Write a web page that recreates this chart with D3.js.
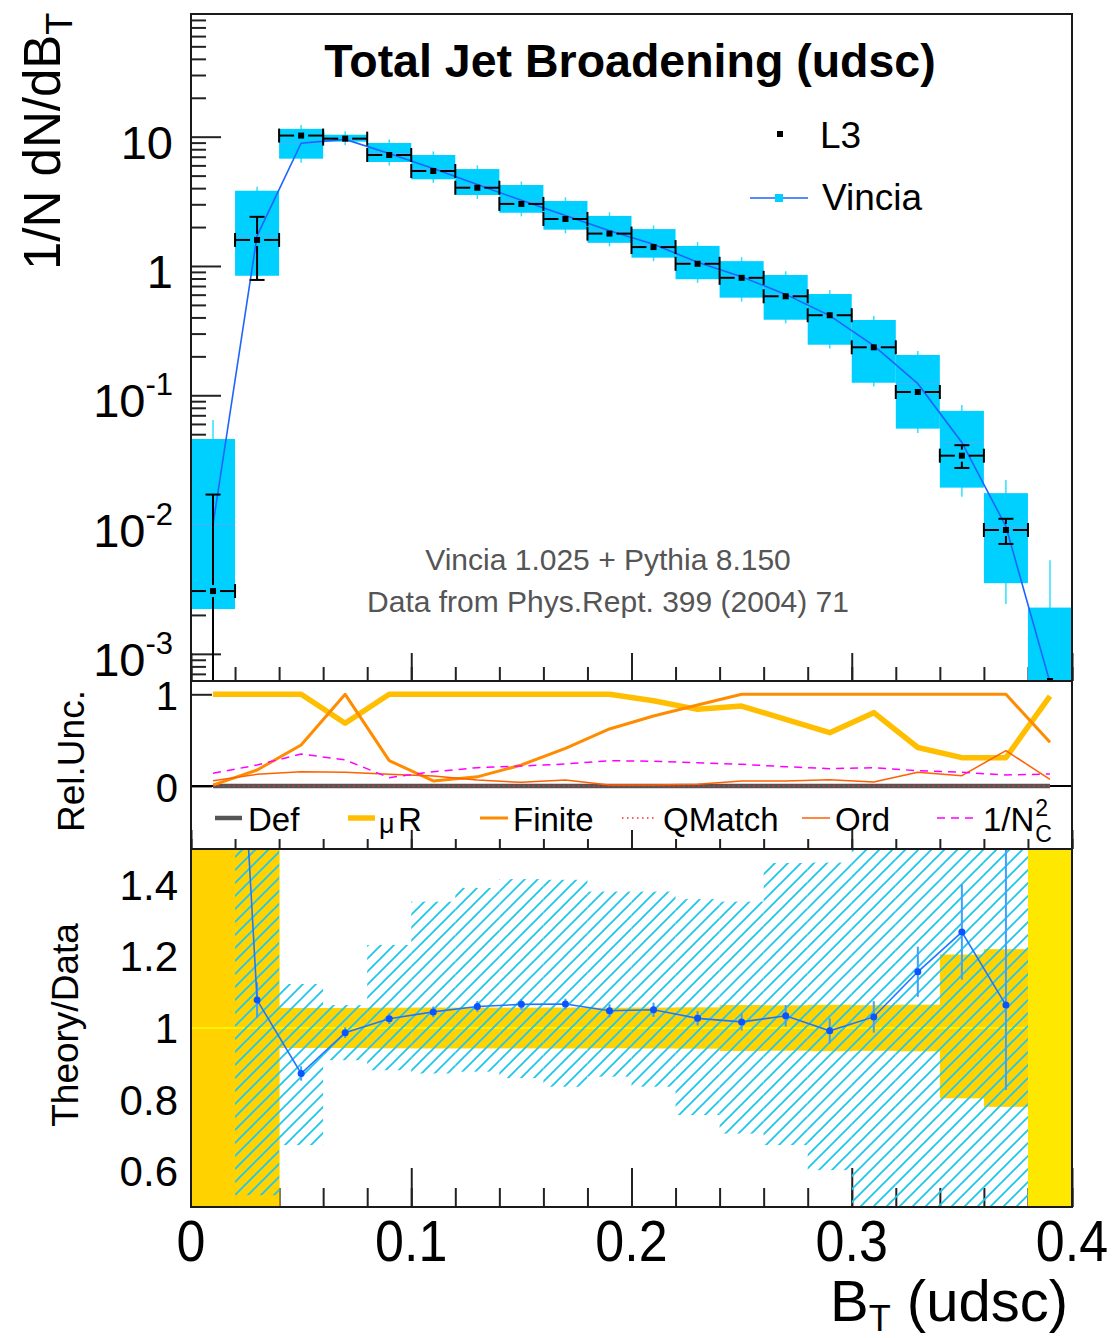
<!DOCTYPE html>
<html>
<head>
<meta charset="utf-8">
<script src="https://cdn.jsdelivr.net/npm/d3@7"></script>
<style>
  body { margin: 0; background: #fff; }
  text { font-family: "Liberation Sans", Arial, Helvetica, sans-serif; fill: #000; }
</style>
</head>
<body>
<script>
// ---- data: B_T bins (udsc) ----
const binLo  = [0.00, 0.02, 0.04, 0.06, 0.08, 0.10, 0.12, 0.14, 0.16, 0.18, 0.20, 0.22, 0.24, 0.26, 0.28, 0.30, 0.32, 0.34, 0.36, 0.38];
const binHi  = [0.02, 0.04, 0.06, 0.08, 0.10, 0.12, 0.14, 0.16, 0.18, 0.20, 0.22, 0.24, 0.26, 0.28, 0.30, 0.32, 0.34, 0.36, 0.38, 0.40];
const binMid = [0.01, 0.03, 0.05, 0.07, 0.09, 0.11, 0.13, 0.15, 0.17, 0.19, 0.21, 0.23, 0.25, 0.27, 0.29, 0.31, 0.33, 0.35, 0.37, 0.39];

// L3 measurement
const l3   = [0.00306, 1.59, 10.2, 9.66, 7.22, 5.43, 4.03, 3.02, 2.31, 1.78, 1.40, 1.04, 0.810, 0.583, 0.416, 0.235, 0.106, 0.0341, 0.00908, 0];
const l3Up = [0.0140, 0.81, 0.57, 0.54, 0.41, 0.31, 0.23, 0.172, 0.132, 0.101, 0.080, 0.060, 0.052, 0.037, 0.027, 0.015, 0.0069, 0.0070, 0.0020, 0];
const l3Dn = [0.0031, 0.81, 0.57, 0.54, 0.41, 0.31, 0.23, 0.172, 0.132, 0.101, 0.080, 0.060, 0.052, 0.037, 0.027, 0.015, 0.0069, 0.0067, 0.0020, 0];

// Vincia prediction + uncertainty boxes + whiskers
const vincia   = [0.0100, 1.71, 8.90, 9.53, 7.41, 5.67, 4.27, 3.22, 2.46, 1.87, 1.47, 1.07, 0.824, 0.603, 0.413, 0.242, 0.123, 0.0432, 0.00966, 0.00060];
const vinciaHi = [0.0459, 3.82, 11.5, 10.36, 8.94, 7.22, 5.62, 4.23, 3.18, 2.44, 1.93, 1.43, 1.09, 0.852, 0.607, 0.382, 0.205, 0.0757, 0.0175, 0.00228];
const vinciaLo = [0.00222, 0.84, 6.76, 9.15, 6.37, 4.68, 3.54, 2.58, 1.91, 1.51, 1.16, 0.79, 0.569, 0.384, 0.246, 0.125, 0.0552, 0.0193, 0.00352, 0.00001];
const vinciaWhiskHi = [0.0643, 4.10, 12.3, 11.0, 9.5, 7.7, 6.0, 4.5, 3.4, 2.6, 2.06, 1.53, 1.17, 0.91, 0.65, 0.41, 0.22, 0.0841, 0.0221, 0.0053];
const vinciaWhiskLo = [0.00001, 0.78, 6.3, 8.6, 6.0, 4.4, 3.3, 2.42, 1.79, 1.42, 1.09, 0.74, 0.53, 0.36, 0.23, 0.117, 0.051, 0.0164, 0.00243, 0.00001];

// relative uncertainties
const uncDef    = [0, 0, 0, 0, 0, 0, 0, 0, 0, 0, 0, 0, 0, 0, 0, 0, 0, 0, 0, 0];
const uncMuR    = [1.0, 1.0, 1.0, 0.684, 1.0, 1.0, 1.0, 1.0, 1.0, 1.0, 0.93, 0.836, 0.872, 0.727, 0.581, 0.80, 0.42, 0.309, 0.309, 0.98];
const uncFinite = [0.01, 0.174, 0.447, 1.0, 0.276, 0.055, 0.10, 0.229, 0.411, 0.622, 0.763, 0.883, 1.0, 1.0, 1.0, 1.0, 1.0, 1.0, 1.0, 0.477];
const uncQMatch = [0, 0, 0, 0, 0, 0, 0, 0, 0, 0, 0, 0, 0, 0, 0, 0, 0, 0, 0, 0];
const uncOrd    = [0.058, 0.128, 0.156, 0.149, 0.128, 0.109, 0.065, 0.04, 0.065, 0.01, 0.01, 0.018, 0.055, 0.055, 0.069, 0.044, 0.149, 0.113, 0.385, 0.073];
const uncNc     = [0.138, 0.229, 0.349, 0.284, 0.091, 0.156, 0.20, 0.218, 0.24, 0.276, 0.27, 0.254, 0.236, 0.21, 0.189, 0.20, 0.167, 0.149, 0.12, 0.131];

// theory / data
const ratio   = [3.27, 1.078, 0.873, 0.987, 1.026, 1.045, 1.060, 1.066, 1.067, 1.048, 1.051, 1.027, 1.017, 1.034, 0.992, 1.031, 1.157, 1.268, 1.064, null];
const ratioUp = [0.5, 0.05, 0.02, 0.015, 0.015, 0.015, 0.015, 0.015, 0.015, 0.018, 0.02, 0.02, 0.024, 0.03, 0.035, 0.044, 0.07, 0.133, 0.5, 0];
const ratioDn = [0.5, 0.05, 0.02, 0.015, 0.015, 0.015, 0.015, 0.015, 0.015, 0.018, 0.02, 0.02, 0.024, 0.03, 0.035, 0.044, 0.07, 0.133, 0.237, 0];
const envHi = [null, 1.6, 1.123, 1.064, 1.232, 1.353, 1.391, 1.416, 1.414, 1.381, 1.381, 1.360, 1.353, 1.461, 1.462, 1.6, 1.6, 1.6, 1.6, null];
const envLo = [null, 0.533, 0.673, 0.910, 0.882, 0.873, 0.878, 0.860, 0.836, 0.864, 0.836, 0.757, 0.705, 0.673, 0.603, 0.4, 0.4, 0.4, 0.4, null];

const logTickLabels = [["10", "-3"], ["10", "-2"], ["10", "-1"], ["1", ""], ["10", ""]];
const logTickValues = [0.001, 0.01, 0.1, 1, 10];
const midTicks = [0, 1];
const ratioTicks = [0.6, 0.8, 1.0, 1.2, 1.4];
const ratioTickLabels = ["0.6", "0.8", "1", "1.2", "1.4"];
const xTickLabels = ["0", "0.1", "0.2", "0.3", "0.4"];

// ---- layout ----
const L = 191, R = 1072;
const P1 = {t: 14, b: 681}, P2 = {t: 681, b: 849}, P3 = {t: 849, b: 1207};

const CYAN = "#00d0ff", BLUE = "#1e64ff", GOLD = "#ffd200", LEMON = "#ffe800";

const x = d3.scaleLinear().domain([0, 0.4]).range([L, R]);
const yTop = d3.scaleLog().domain([Math.pow(10, -3.21), Math.pow(10, 1.949)]).range([P1.b, P1.t]);
const yMid = d3.scaleLinear().domain([-0.687, 1.145]).range([P2.b, P2.t]);
const yBot = d3.scaleLinear().domain([0.5, 1.5]).range([P3.b, P3.t]);

const svg = d3.select("body").append("svg").attr("width", 1113).attr("height", 1338);
const defs = svg.append("defs");
[["c1", P1], ["c2", P2], ["c3", P3]].forEach(([id, p]) => {
  defs.append("clipPath").attr("id", id).append("rect")
    .attr("x", L).attr("y", p.t).attr("width", R - L).attr("height", p.b - p.t);
});
const HT = 13;
const pat = defs.append("pattern").attr("id", "hatch")
  .attr("patternUnits", "userSpaceOnUse").attr("width", HT).attr("height", HT);
pat.append("path")
  .attr("d", `M0,${HT} L${HT},0 M${-HT / 4},${HT / 4} L${HT / 4},${-HT / 4} M${HT * 3 / 4},${HT * 5 / 4} L${HT * 5 / 4},${HT * 3 / 4}`)
  .attr("stroke", "#22c8ec").attr("stroke-width", 1.9);

// ticks (drawn first so fills hide them, like the original)
function xTicks(p, majLen, minLen) {
  const g = svg.append("g");
  g.append("g").attr("transform", `translate(0,${p.b})`)
    .call(d3.axisBottom(x).tickValues(x.ticks(20)).tickSize(-minLen).tickSizeOuter(0).tickFormat(""));
  g.append("g").attr("transform", `translate(0,${p.b})`)
    .call(d3.axisBottom(x).tickValues(x.ticks(4)).tickSize(-majLen).tickSizeOuter(0).tickFormat(""));
  g.selectAll(".domain").remove();
  g.selectAll("line").attr("stroke", "#222").attr("stroke-width", 2);
}
function yTicks(scale, vals, len) {
  const g = svg.append("g").attr("transform", `translate(${L},0)`)
    .call(d3.axisLeft(scale).tickValues(vals).tickSize(-len).tickSizeOuter(0).tickFormat(""));
  g.select(".domain").remove();
  g.selectAll("line").attr("stroke", "#222").attr("stroke-width", 2);
}
xTicks(P1, 28, 14);
xTicks(P2, 19, 10);
xTicks(P3, 39, 19);
const isDecade = v => Math.abs(Math.log10(v) - Math.round(Math.log10(v))) < 1e-9;
yTicks(yTop, yTop.ticks().filter(v => !isDecade(v)), 15);
yTicks(yTop, logTickValues, 30);
yTicks(yMid, midTicks, 21);
yTicks(yBot, ratioTicks, 20);

// ---------------- top panel ----------------
const gTop = svg.append("g").attr("clip-path", "url(#c1)");
const bins = binMid.map((m, i) => i);

gTop.selectAll("line.whisk").data(bins).join("line")
  .attr("x1", i => x(binMid[i])).attr("x2", i => x(binMid[i]))
  .attr("y1", i => yTop(vinciaWhiskHi[i])).attr("y2", i => yTop(vinciaWhiskLo[i]))
  .attr("stroke", "#30e0ff").attr("stroke-width", 1.5);
gTop.selectAll("rect.box").data(bins).join("rect")
  .attr("x", i => x(binLo[i])).attr("width", i => x(binHi[i]) - x(binLo[i]))
  .attr("y", i => yTop(vinciaHi[i])).attr("height", i => yTop(vinciaLo[i]) - yTop(vinciaHi[i]))
  .attr("fill", CYAN);
gTop.selectAll("line.hist").data(bins).join("line")
  .attr("x1", i => x(binLo[i])).attr("x2", i => x(binHi[i]))
  .attr("y1", i => yTop(vincia[i])).attr("y2", i => yTop(vincia[i]))
  .attr("stroke", "#49b0ff").attr("stroke-width", 1);
gTop.append("path").datum(bins)
  .attr("d", d3.line().x(i => x(binMid[i])).y(i => yTop(vincia[i])))
  .attr("fill", "none").attr("stroke", BLUE).attr("stroke-width", 1.6);

// L3 points with error bars
const gData = gTop.append("g").attr("stroke", "#000").attr("stroke-width", 2);
const HS = 3, GAP = 7;
bins.forEach(i => {
  const cx = x(binMid[i]);
  const cy = l3[i] > 0 ? yTop(l3[i]) : P1.b;
  if (l3[i] > 0) {
    const xl = x(binLo[i]), xr = x(binHi[i]);
    gData.append("line").attr("x1", xl).attr("x2", cx - GAP).attr("y1", cy).attr("y2", cy);
    gData.append("line").attr("x1", cx + GAP).attr("x2", xr).attr("y1", cy).attr("y2", cy);
    gData.append("line").attr("x1", xl).attr("x2", xl).attr("y1", cy - 7).attr("y2", cy + 7);
    gData.append("line").attr("x1", xr).attr("x2", xr).attr("y1", cy - 7).attr("y2", cy + 7);
    const yu = yTop(l3[i] + l3Up[i]);
    const lo = l3[i] - l3Dn[i];
    const yd = lo > 0 ? yTop(lo) : P1.b + 20;
    if (cy - yu > GAP) {
      gData.append("line").attr("x1", cx).attr("x2", cx).attr("y1", yu).attr("y2", cy - 6);
      gData.append("line").attr("x1", cx - 7.5).attr("x2", cx + 7.5).attr("y1", yu).attr("y2", yu);
    }
    if (yd - cy > GAP) {
      gData.append("line").attr("x1", cx).attr("x2", cx).attr("y1", cy + 6).attr("y2", yd);
      if (lo > 0) gData.append("line").attr("x1", cx - 7.5).attr("x2", cx + 7.5).attr("y1", yd).attr("y2", yd);
    }
  }
  gTop.append("rect").attr("x", cx - HS).attr("y", cy - HS).attr("width", 2 * HS).attr("height", 2 * HS).attr("fill", "#000");
});

// ---------------- middle panel ----------------
const gMid = svg.append("g").attr("clip-path", "url(#c2)");
gMid.append("line").attr("x1", L).attr("x2", R).attr("y1", yMid(0)).attr("y2", yMid(0))
  .attr("stroke", "#000").attr("stroke-width", 2);
const uncSeries = [
  {name: "Def", vals: uncDef, color: "#555", width: 4.5, dash: null},
  {name: "muR", vals: uncMuR, color: "#ffbf00", width: 5.5, dash: null},
  {name: "Finite", vals: uncFinite, color: "#ff8c00", width: 3, dash: null},
  {name: "QMatch", vals: uncQMatch, color: "#ff2a2a", width: 1.5, dash: "1.5,3.5"},
  {name: "Ord", vals: uncOrd, color: "#ff6000", width: 1.5, dash: null},
  {name: "Nc", vals: uncNc, color: "#ff00ff", width: 1.5, dash: "8,6"}
];
const uncLine = vals => d3.line().x((d, i) => x(binMid[i])).y(d => yMid(d))(vals);
uncSeries.forEach(s => {
  gMid.append("path").attr("d", uncLine(s.vals)).attr("fill", "none")
    .attr("stroke", s.color).attr("stroke-width", s.width)
    .attr("stroke-dasharray", s.dash).attr("stroke-linejoin", "round");
});

// legend row
const legY = 818, legBase = 831;
const legX = [215, 348, 480, 622, 802, 937];
const legLen = [27, 27, 28, 34, 28, 36];
uncSeries.forEach((s, k) => {
  svg.append("line").attr("x1", legX[k]).attr("x2", legX[k] + legLen[k]).attr("y1", legY).attr("y2", legY)
    .attr("stroke", s.color).attr("stroke-width", s.width).attr("stroke-dasharray", s.dash);
});
const lt = (tx, s) => svg.append("text").attr("x", tx).attr("y", legBase).attr("font-size", 33).text(s);
lt(248, "Def");
svg.append("text").attr("x", 379).attr("y", legBase + 2).attr("font-size", 27).text("\u03bc");
lt(398, "R");
lt(513, "Finite");
lt(663, "QMatch");
lt(835, "Ord");
const nc = lt(983, "1/N");
const ncW = nc.node().getComputedTextLength();
svg.append("text").attr("x", 983 + ncW + 1).attr("y", 816).attr("font-size", 23).text("2");
svg.append("text").attr("x", 983 + ncW + 1).attr("y", 842).attr("font-size", 23).text("C");

// ---------------- bottom panel ----------------
const gBot = svg.append("g").attr("clip-path", "url(#c3)");
const bandHi = bins.map(i => l3[i] > 0 ? 1 + l3Up[i] / l3[i] : 2);
const bandLo = bins.map(i => l3[i] > 0 ? 1 - l3Dn[i] / l3[i] : 0);
gBot.selectAll("rect.band").data(bins).join("rect")
  .attr("x", i => x(binLo[i])).attr("width", i => x(binHi[i]) - x(binLo[i]) + 0.5)
  .attr("y", i => yBot(Math.min(bandHi[i], 1.6)))
  .attr("height", i => yBot(Math.max(bandLo[i], 0.4)) - yBot(Math.min(bandHi[i], 1.6)))
  .attr("fill", i => l3[i] > 0 ? GOLD : LEMON);
gBot.selectAll("line.one").data(bins.filter(i => l3[i] > 0)).join("line")
  .attr("x1", i => x(binLo[i])).attr("x2", i => x(binHi[i]))
  .attr("y1", yBot(1)).attr("y2", yBot(1))
  .attr("stroke", "#fff200").attr("stroke-width", 2);
gBot.selectAll("rect.env").data(bins.filter(i => envHi[i] != null)).join("rect")
  .attr("x", i => x(binLo[i])).attr("width", i => x(binHi[i]) - x(binLo[i]))
  .attr("y", i => yBot(envHi[i])).attr("height", i => yBot(envLo[i]) - yBot(envHi[i]))
  .attr("fill", "url(#hatch)");
gBot.selectAll("line.rerr").data(bins.filter(i => ratio[i] != null)).join("line")
  .attr("x1", i => x(binMid[i])).attr("x2", i => x(binMid[i]))
  .attr("y1", i => yBot(ratio[i] + ratioUp[i])).attr("y2", i => yBot(ratio[i] - ratioDn[i]))
  .attr("stroke", "#3ea0ff").attr("stroke-width", 2);
gBot.append("path").datum(bins)
  .attr("d", d3.line().defined(i => ratio[i] != null).x(i => x(binMid[i])).y(i => yBot(ratio[i])))
  .attr("fill", "none").attr("stroke", "#1f78ff").attr("stroke-width", 1.6);
gBot.selectAll("circle").data(bins.filter(i => ratio[i] != null)).join("circle")
  .attr("cx", i => x(binMid[i])).attr("cy", i => yBot(ratio[i])).attr("r", 3.5)
  .attr("fill", "#0a55ff");

// frames
[P1, P2, P3].forEach(p => {
  svg.append("rect").attr("x", L).attr("y", p.t).attr("width", R - L).attr("height", p.b - p.t)
    .attr("fill", "none").attr("stroke", "#1a1a1a").attr("stroke-width", 2);
});

// ---------------- texts ----------------
svg.append("text").attr("x", 630).attr("y", 77).attr("text-anchor", "middle")
  .attr("font-size", 46.5).attr("font-weight", "bold").text("Total Jet Broadening (udsc)");

// top-panel legend
svg.append("rect").attr("x", 777).attr("y", 131).attr("width", 6).attr("height", 6).attr("fill", "#000");
svg.append("text").attr("x", 820).attr("y", 148).attr("font-size", 37).text("L3");
svg.append("line").attr("x1", 750).attr("x2", 808).attr("y1", 198).attr("y2", 198)
  .attr("stroke", BLUE).attr("stroke-width", 1.6);
svg.append("rect").attr("x", 775).attr("y", 194).attr("width", 8).attr("height", 8).attr("fill", CYAN);
svg.append("text").attr("x", 822).attr("y", 210).attr("font-size", 37).text("Vincia");

svg.append("text").attr("x", 608).attr("y", 570).attr("text-anchor", "middle")
  .attr("font-size", 30).style("fill", "#555").text("Vincia 1.025 + Pythia 8.150");
svg.append("text").attr("x", 608).attr("y", 612).attr("text-anchor", "middle")
  .attr("font-size", 30).style("fill", "#555").text("Data from Phys.Rept. 399 (2004) 71");

// log tick labels
logTickValues.forEach((v, k) => {
  const t = svg.append("text").attr("x", 173).attr("y", yTop(v) + 22)
    .attr("text-anchor", "end").attr("font-size", 47);
  t.append("tspan").text(logTickLabels[k][0]);
  if (logTickLabels[k][1]) {
    t.append("tspan").attr("dy", -22).attr("font-size", 31).text(logTickLabels[k][1]);
  }
});
midTicks.forEach(v => {
  svg.append("text").attr("x", 178).attr("y", yMid(v) + 16).attr("text-anchor", "end")
    .attr("font-size", 40).text(String(v));
});
ratioTicks.forEach((v, k) => {
  svg.append("text").attr("x", 178).attr("y", yBot(v) + 15).attr("text-anchor", "end")
    .attr("font-size", 42).text(ratioTickLabels[k]);
});
x.ticks(4).forEach((v, k) => {
  svg.append("text").attr("transform", `translate(${x(v)},1261) scale(1,1.1)`)
    .attr("text-anchor", "middle").attr("font-size", 52).text(xTickLabels[k]);
});

// axis titles
const yt = svg.append("text").attr("transform", "translate(60,270) rotate(-90)").attr("font-size", 51);
yt.append("tspan").text("1/N dN/dB");
yt.append("tspan").attr("dy", 12).attr("font-size", 36).text("T");

svg.append("text").attr("transform", "translate(84,761) rotate(-90)").attr("text-anchor", "middle")
  .attr("font-size", 37).text("Rel.Unc.");
svg.append("text").attr("transform", "translate(78,1025) rotate(-90)").attr("text-anchor", "middle")
  .attr("font-size", 37).text("Theory/Data");

const xt = svg.append("text").attr("x", 1068).attr("y", 1321).attr("text-anchor", "end").attr("font-size", 58);
xt.append("tspan").text("B");
xt.append("tspan").attr("dy", 10).attr("font-size", 36).text("T");
xt.append("tspan").attr("dy", -10).text(" (udsc)");
</script>
</body>
</html>
